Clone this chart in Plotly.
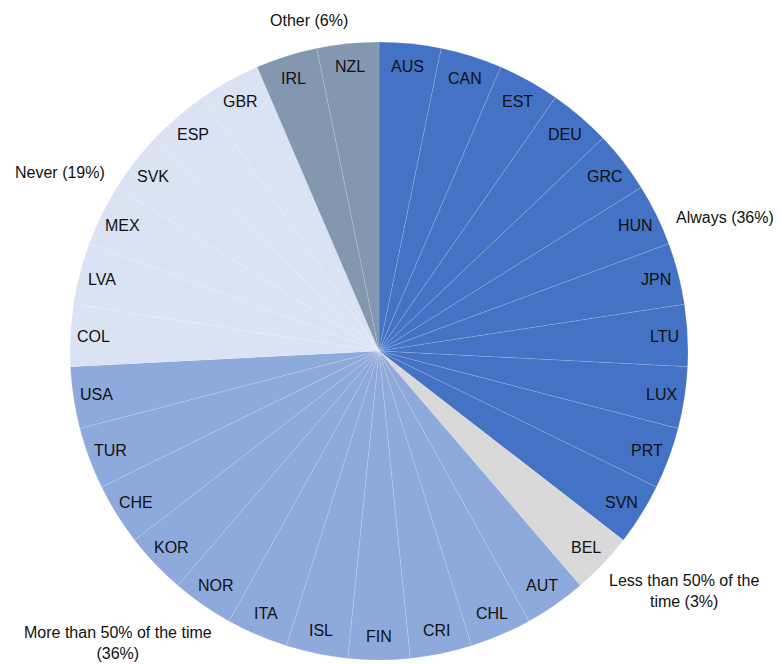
import math
import plotly.graph_objects as go

countries = ["AUS", "CAN", "EST", "DEU", "GRC", "HUN", "JPN", "LTU", "LUX", "PRT", "SVN",
             "BEL",
             "AUT", "CHL", "CRI", "FIN", "ISL", "ITA", "NOR", "KOR", "CHE", "TUR", "USA",
             "COL", "LVA", "MEX", "SVK", "ESP", "GBR",
             "IRL", "NZL"]
groups = (["Always"] * 11 + ["Less than 50% of the time"] * 1 +
          ["More than 50% of the time"] * 11 + ["Never"] * 6 + ["Other"] * 2)
values = [1] * len(countries)

group_colors = {
    "Always": "#4472C4",
    "Less than 50% of the time": "#D9D9D9",
    "More than 50% of the time": "#8EA9DB",
    "Never": "#DAE3F3",
    "Other": "#8497B0",
}
group_labels = ["Always (36%)", "Less than 50% of the<br>time (3%)",
                "More than 50% of the time<br>(36%)", "Never (19%)", "Other (6%)"]

W, H = 780, 664
CX, CY, R = 379, 351, 309  # pixel center (from top) and radius

fig = go.Figure(go.Pie(
    labels=countries,
    values=values,
    sort=False,
    direction="clockwise",
    rotation=0,
    textinfo="none",
    hoverinfo="label",
    marker=dict(colors=[group_colors[g] for g in groups],
                line=dict(color="rgba(255,255,255,0.25)", width=0.5)),
    domain=dict(x=[(CX - R) / W, (CX + R) / W],
                y=[(H - CY - R) / H, (H - CY + R) / H]),
    showlegend=False,
))

total = sum(values)
annotations = []
cum = 0
for c, v in zip(countries, values):
    mid = (cum + v / 2) / total * 2 * math.pi
    cum += v
    rr = 0.925 * R
    px = CX + rr * math.sin(mid)
    py = CY - rr * math.cos(mid)
    annotations.append(dict(
        x=px / W, y=1 - py / H, xref="paper", yref="paper",
        text=c, showarrow=False, xanchor="center", yanchor="middle",
        font=dict(family="Liberation Sans, Arial, sans-serif", size=16, color="#111111"),
    ))

# group labels (pixel positions of their centers)
group_pos = [(725, 218, "center"), (684, 591, "center"), (118, 643, "center"),
             (60, 172, "center"), (309, 21, "center")]
for txt, (gx, gy, anc) in zip(group_labels, group_pos):
    annotations.append(dict(
        x=gx / W, y=1 - gy / H, xref="paper", yref="paper",
        text=txt, showarrow=False, xanchor=anc, yanchor="middle", align="center",
        font=dict(family="Liberation Sans, Arial, sans-serif", size=16, color="#111111"),
    ))

fig.update_layout(
    width=W, height=H,
    margin=dict(l=0, r=0, t=0, b=0),
    paper_bgcolor="white",
    plot_bgcolor="white",
    annotations=annotations,
)

fig.write_html("out.html")
